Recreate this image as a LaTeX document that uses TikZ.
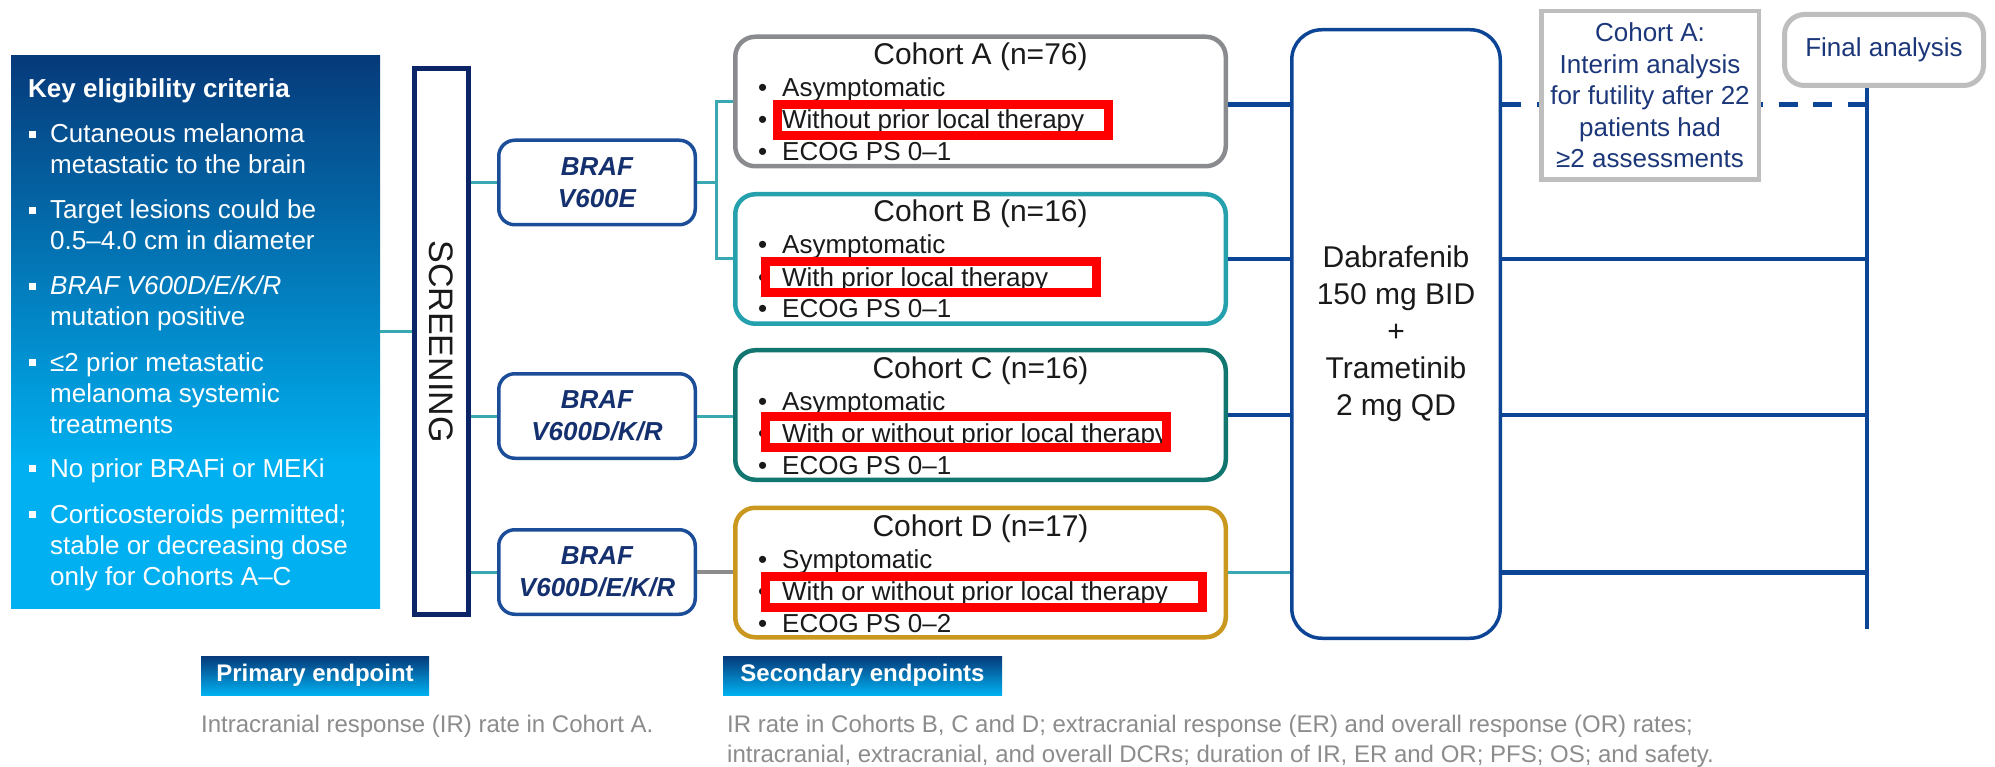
\documentclass[tikz,border=0pt]{standalone}
\usepackage{fontspec}
\setmainfont{Liberation Sans}
\usetikzlibrary{calc}

\definecolor{elnavy}{HTML}{063A7A}
\definecolor{elcyan}{HTML}{00B0F0}
\definecolor{scrnavy}{HTML}{0B2566}
\definecolor{brafblue}{HTML}{1B4D98}
\definecolor{braftext}{HTML}{15306E}
\definecolor{tealline}{HTML}{3AA8B0}
\definecolor{navyline}{HTML}{0D4596}
\definecolor{cAgray}{HTML}{898B8F}
\definecolor{cBteal}{HTML}{24A1AC}
\definecolor{cCteal}{HTML}{10766F}
\definecolor{cDgold}{HTML}{CA981F}
\definecolor{boxgray}{HTML}{BEBEBE}
\definecolor{anatext}{HTML}{1C3779}
\definecolor{endgray}{HTML}{8C8C8C}
\definecolor{connGray}{HTML}{8C8C8C}
\definecolor{textdark}{HTML}{1A1A1A}

\pgfdeclareverticalshading{eligshade}{100bp}{color(0bp)=(elcyan); color(38bp)=(elcyan); color(75bp)=(elnavy); color(100bp)=(elnavy)}

\newcommand\fsz[2]{\fontsize{#1}{#2}\selectfont}
\newcommand\sqbul{\llap{\raisebox{5pt}{\rule{7pt}{7pt}}\hspace{14pt}}}
\newcommand\dotbul{\llap{•\hspace{15pt}}}

\begin{document}
\begin{tikzpicture}[x=1pt,y=-1pt,
  eligbox/.style={shade, shading=eligshade, minimum width=369pt, minimum height=552pt, inner sep=0pt},
  crit/.style={anchor=base west, align=left, inner sep=0pt, text=white, font=\fsz{26}{31}},
  scrbox/.style={draw=scrnavy, fill=white, line width=5pt, minimum width=54pt, minimum height=546pt, inner sep=0pt},
  brafbox/.style={draw=brafblue, fill=white, line width=3.5pt, rounded corners=16pt, minimum width=196.5pt, minimum height=84.5pt, inner sep=0pt, align=center, text=braftext, font=\fsz{26}{32}\bfseries\itshape},
  cohort/.style={fill=white, line width=4.5pt, rounded corners=20pt, minimum width=490.5pt, minimum height=129.5pt, inner sep=0pt},
  ctitle/.style={anchor=base, inner sep=0pt, font=\fsz{30}{36}, text=textdark},
  citems/.style={anchor=base west, align=left, inner sep=0pt, font=\fsz{26}{32}, text=textdark},
  redbox/.style={draw=red, line width=9pt, inner sep=0pt, minimum height=31pt},
  dabbox/.style={draw=navyline, fill=white, line width=3.5pt, rounded corners=30pt, minimum width=208.5pt, minimum height=608.5pt, inner sep=0pt, align=center, text=textdark, font=\fsz{30}{37}},
  interimbox/.style={draw=boxgray, fill=white, line width=4.5pt, minimum width=217.5pt, minimum height=168.5pt, inner sep=0pt, align=center, text=anatext, font=\fsz{26}{31.5}},
  finalbox/.style={draw=boxgray, fill=white, line width=5pt, rounded corners=20pt, minimum width=199pt, minimum height=71pt, inner sep=0pt, text=anatext, font=\fsz{26}{31}},
  teall/.style={draw=tealline, line width=3pt},
  navyl/.style={draw=navyline, line width=4.5pt},
  grayl/.style={draw=connGray, line width=4.5pt},
  eplabel/.style={top color=elnavy, bottom color=elcyan, minimum height=39pt, inner sep=0pt, text=white, font=\fsz{24}{28}\bfseries},
  eptext/.style={anchor=base west, align=left, inner sep=0pt, text=endgray, font=\fsz{24}{30}}
]
\useasboundingbox (0,0) rectangle (1995,767);
\fill[white] (0,0) rectangle (1995,767);

% eligibility box (multi-line texts anchored at the baseline of their last line)
\node[eligbox] (elig) at (195.5,332) {};
\node[crit, font=\fsz{26}{31}\bfseries] (ktitle) at (28,98) {Key eligibility criteria};
\node[crit] (k1) at (50,174) {\sqbul Cutaneous melanoma\\metastatic to the brain};
\node[crit] (k2) at (50,250) {\sqbul Target lesions could be\\0.5–4.0 cm in diameter};
\node[crit] (k3) at (50,326) {\sqbul\textit{BRAF V600D/E/K/R}\\mutation positive};
\node[crit] (k4) at (50,433) {\sqbul ≤2 prior metastatic\\melanoma systemic\\treatments};
\node[crit] (k5) at (50,477) {\sqbul No prior BRAFi or MEKi};
\node[crit] (k6) at (50,585) {\sqbul Corticosteroids permitted;\\stable or decreasing dose\\only for Cohorts A–C};

% screening
\node[scrbox] (scr) at (441.5,341.5) {};
\node[rotate=-90, inner sep=0pt, font=\fsz{34}{40}, text=textdark] (scrtxt) at (scr.center) {SCREENING};

% BRAF boxes
\node[brafbox] (b1) at (597,182.5) {BRAF\\V600E};
\node[brafbox] (b2) at (597,416) {BRAF\\V600D/K/R};
\node[brafbox] (b3) at (597,572) {BRAF\\V600D/E/K/R};

% cohort boxes
\node[cohort, draw=cAgray] (cA) at (980.5,101.5) {};
\node[cohort, draw=cBteal] (cB) at (980.5,259) {};
\node[cohort, draw=cCteal] (cC) at (980.5,415) {};
\node[cohort, draw=cDgold] (cD) at (980.5,572.5) {};

\node[ctitle] (tA) at (980.5,65) {Cohort A (n=76)};
\node[citems] (iA) at (782,161) {\dotbul Asymptomatic\\\dotbul Without prior local therapy\\\dotbul ECOG PS 0–1};
\node[ctitle] (tB) at (980.5,222) {Cohort B (n=16)};
\node[citems] (iB) at (782,318) {\dotbul Asymptomatic\\\dotbul With prior local therapy\\\dotbul ECOG PS 0–1};
\node[ctitle] (tC) at (980.5,378) {Cohort C (n=16)};
\node[citems] (iC) at (782,474) {\dotbul Asymptomatic\\\dotbul With or without prior local therapy\\\dotbul ECOG PS 0–1};
\node[ctitle] (tD) at (980.5,536) {Cohort D (n=17)};
\node[citems] (iD) at (782,632) {\dotbul Symptomatic\\\dotbul With or without prior local therapy\\\dotbul ECOG PS 0–2};

% red highlight boxes
\node[redbox, minimum width=331pt] (rA) at (943,120) {};
\node[redbox, minimum width=331pt] (rB) at (931,277) {};
\node[redbox, minimum width=401pt] (rC) at (966,432) {};
\node[redbox, minimum width=437pt] (rD) at (984,592) {};

% treatment box
\node[dabbox] (dab) at (1396,334) {Dabrafenib\\150 mg BID\\+\\Trametinib\\2 mg QD};

% final analysis and vertical line
\node[finalbox] (fin) at (1884,50) {Final analysis};
\coordinate (vbot) at (1867,629);
\coordinate (rowA) at ($(cA.east)+(0,3)$);

% connectors left
\draw[teall] (elig.east) -- (elig.east -| scr.west);
\draw[teall] (scr.east |- b1.west) -- (b1.west);
\draw[teall] (scr.east |- b2.west) -- (b2.west);
\draw[teall] (scr.east |- b3.west) -- (b3.west);
\draw[teall] (b1.east) -- ++(19,0) |- (cA.west);
\draw[teall] (b1.east) -- ++(19,0) |- (cB.west);
\draw[teall] (b2.east) -- (b2.east -| cC.west);
\draw[grayl] (b3.east) -- (b3.east -| cD.west);

% connectors to treatment
\draw[navyl] (cA.east |- rowA) -- (dab.west |- rowA);
\draw[navyl] (cB.east) -- (cB.east -| dab.west);
\draw[navyl] (cC.east) -- (cC.east -| dab.west);
\draw[teall] (cD.east) -- (cD.east -| dab.west);

% connectors to analysis
\draw[navyl] (fin.south -| vbot) -- (vbot);
\draw[navyl, dash pattern=on 19pt off 15.6pt] (vbot |- rowA) -- (dab.east |- rowA);
\draw[navyl] (dab.east |- cB.east) -- (vbot |- cB.east);
\draw[navyl] (dab.east |- cC.east) -- (vbot |- cC.east);
\draw[navyl] (dab.east |- cD.east) -- (vbot |- cD.east);

% interim analysis box (on top of dashed line)
\node[interimbox] (interim) at (1650,95.5) {Cohort A:\\Interim analysis\\for futility after 22\\patients had\\≥2 assessments};

% endpoints
\node[eplabel, minimum width=228pt] (pe) at (315,675.5) {Primary endpoint};
\node[eplabel, minimum width=279pt] (se) at (862.5,675.5) {Secondary endpoints};
\node[eptext] (pet) at (201,732) {Intracranial response (IR) rate in Cohort A.};
\node[eptext] (set) at (727,762) {IR rate in Cohorts B, C and D; extracranial response (ER) and overall response (OR) rates;\\intracranial, extracranial, and overall DCRs; duration of IR, ER and OR; PFS; OS; and safety.};
\end{tikzpicture}
\end{document}
